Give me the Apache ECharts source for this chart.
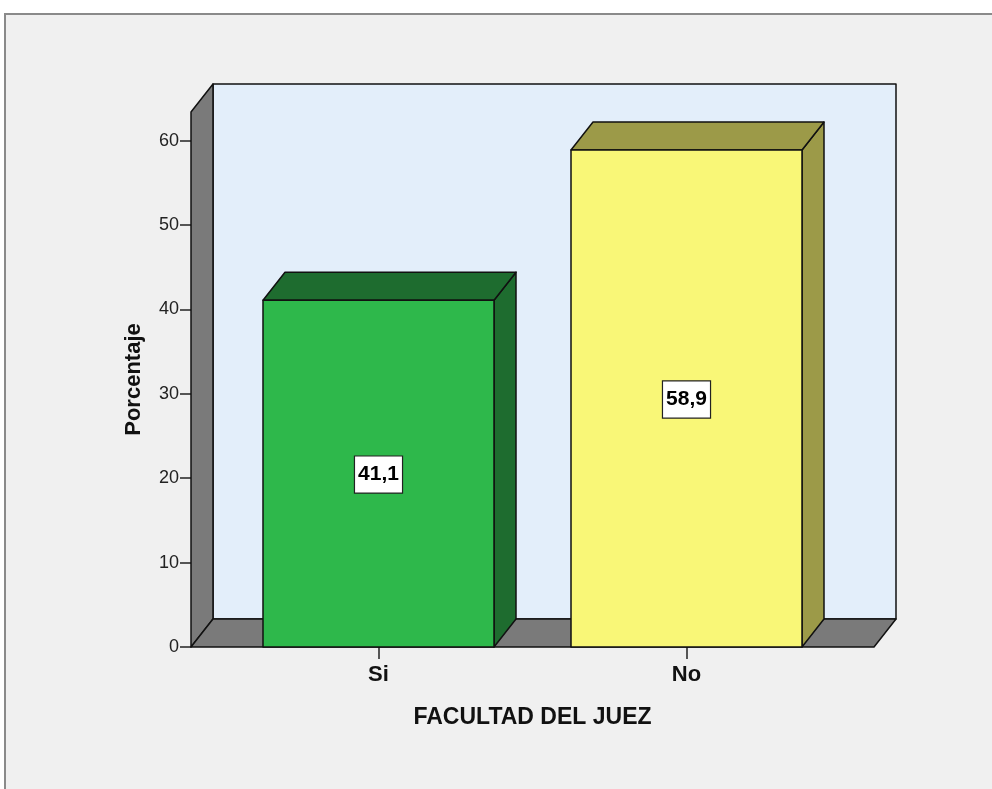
<!DOCTYPE html>
<html>
<head>
<meta charset="utf-8">
<script src="https://cdn.jsdelivr.net/npm/echarts@6/dist/echarts.min.js"></script>
<style>
html,body{margin:0;padding:0;background:#fff;}
#chart{width:992px;height:789px;}
</style>
</head>
<body>
<div id="chart"></div>
<script>
// ---- data ----
const categories = ['Si', 'No'];
const percentages = [41.1, 58.9];
const labels = ['41,1', '58,9'];
const yMin = 0, yMax = 63.4, yInterval = 10;

// ---- styles ----
const frontColors = ['#2eb84b', '#f9f777'];
const darkColors = ['#1e6c2f', '#9c9a48'];
const DX = 22, DY = -28;      // 3D depth offset
const EXT = 33.5;             // floor extension beyond category band
const FONT = '"Liberation Sans", Arial, sans-serif';

const chart = echarts.init(document.getElementById('chart'), null, {renderer: 'canvas'});

function wallsRender(params, api) {
  const cs = params.coordSys;
  const L = cs.x - EXT, R = cs.x + cs.width + EXT;
  const B = api.coord([0, 0])[1];
  const T = cs.y;
  const st = {stroke: '#111', lineWidth: 1.5, lineJoin: 'round'};
  return {
    type: 'group',
    children: [
      {type: 'rect', shape: {x: L + DX, y: T + DY, width: R - L, height: B - T},
       style: Object.assign({fill: '#e3eefa'}, st)},
      {type: 'polygon', shape: {points: [[L, B], [L + DX, B + DY], [L + DX, T + DY], [L, T]]},
       style: Object.assign({fill: '#7a7a7a'}, st)},
      {type: 'polygon', shape: {points: [[L, B], [R, B], [R + DX, B + DY], [L + DX, B + DY]]},
       style: Object.assign({fill: '#7a7a7a'}, st)}
    ]
  };
}

function barsRender(params, api) {
  const idx = params.dataIndex;
  const x = api.coord([api.value(0), 0])[0];
  const y0 = api.coord([api.value(0), 0])[1];
  const yv = api.coord([api.value(0), api.value(1)])[1];
  const ym = api.coord([api.value(0), api.value(1) / 2])[1];
  const w = api.size([1, 0])[0] * 0.75;
  const xl = x - w / 2, xr = x + w / 2;
  const st = {stroke: '#111', lineWidth: 1.5, lineJoin: 'round'};
  return {
    type: 'group',
    children: [
      {type: 'polygon', shape: {points: [[xr, yv], [xr + DX, yv + DY], [xr + DX, y0 + DY], [xr, y0]]},
       style: Object.assign({fill: darkColors[idx]}, st)},
      {type: 'polygon', shape: {points: [[xl, yv], [xr, yv], [xr + DX, yv + DY], [xl + DX, yv + DY]]},
       style: Object.assign({fill: darkColors[idx]}, st)},
      {type: 'rect', shape: {x: xl, y: yv, width: w, height: y0 - yv},
       style: Object.assign({fill: frontColors[idx]}, st)},
      {type: 'text', x: x, y: ym + 1,
       style: {text: labels[idx], align: 'center', verticalAlign: 'middle',
               font: 'bold 21px ' + FONT, fill: '#000',
               backgroundColor: '#fff', borderColor: '#222', borderWidth: 1.2,
               padding: [8, 3, 7, 3]}}
    ]
  };
}

const option = {
  backgroundColor: '#ffffff',
  animation: false,
  graphic: [{
    type: 'rect', z: -10, silent: true,
    shape: {x: 5, y: 14, width: 1100, height: 900},
    style: {fill: '#f0f0f0', stroke: '#8a8a8a', lineWidth: 2}
  }],
  grid: {left: 224.5, right: 151.5, top: 112, bottom: 142},
  xAxis: {
    type: 'category',
    data: categories,
    boundaryGap: true,
    axisLine: {show: false},
    axisTick: {show: true, alignWithLabel: true, length: 12, lineStyle: {color: '#222', width: 1.5}},
    axisLabel: {margin: 17, fontSize: 22, fontWeight: 'bold', color: '#111', fontFamily: FONT},
    name: 'FACULTAD DEL JUEZ',
    nameLocation: 'middle',
    nameGap: 59,
    nameTextStyle: {fontSize: 23, fontWeight: 'bold', color: '#111', fontFamily: FONT},
    splitLine: {show: false}
  },
  yAxis: {
    type: 'value',
    min: yMin, max: yMax, interval: yInterval,
    offset: EXT,
    axisLine: {show: false},
    axisTick: {show: true, length: 11, lineStyle: {color: '#222', width: 1.5}},
    axisLabel: {margin: 12, fontSize: 18, color: '#222', fontFamily: FONT,
                showMaxLabel: false},
    splitLine: {show: false},
    name: 'Porcentaje',
    nameLocation: 'middle',
    nameRotate: 90,
    nameGap: 46,
    nameTextStyle: {fontSize: 22, fontWeight: 'bold', color: '#111', fontFamily: FONT}
  },
  series: [
    {type: 'custom', renderItem: wallsRender, data: [[0, 0]], z: 1, silent: true, clip: false},
    {type: 'custom', renderItem: barsRender,
     data: categories.map((c, i) => [i, percentages[i]]), z: 2, clip: false,
     encode: {x: 0, y: 1}}
  ]
};
chart.setOption(option);
</script>
</body>
</html>
